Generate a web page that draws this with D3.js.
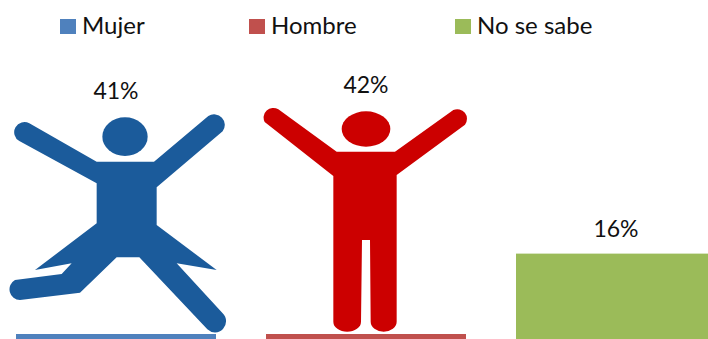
<!DOCTYPE html>
<html>
<head>
<meta charset="utf-8">
<script src="https://cdn.jsdelivr.net/npm/d3@7"></script>
<style>
  html, body { margin: 0; padding: 0; background: #fff; }
  text { font-family: Lato, "Open Sans", sans-serif; fill: #111; }
</style>
</head>
<body>
<div id="chart"></div>
<script>
var categories = ["Mujer", "Hombre", "No se sabe"];
var values = [41, 42, 16];
var barColors = ["#4f81bd", "#c0504d", "#9bbb59"];

function init() {

    var width = 708;
    var height = 339;

    var svg = d3.select("#chart")
        .append("svg")
        .attr("width", width)
        .attr("height", height)
        .style("display", "block");

    // Scales: baseline sits just under the cropped bottom edge
    var x = d3.scaleBand()
        .domain(categories)
        .range([-9, 741])
        .paddingInner(0.2)
        .paddingOuter(0.1);

    var y = d3.scaleLinear()
        .domain([0, 42])
        .range([342, 110]);

    // Bars
    svg.selectAll(".bar")
        .data(categories)
        .enter()
        .append("rect")
        .attr("class", "bar")
        .attr("x", function (d) { return x(d); })
        .attr("y", function (d, i) { return y(values[i]); })
        .attr("width", x.bandwidth())
        .attr("height", function (d, i) { return y(0) - y(values[i]); })
        .attr("fill", function (d, i) { return barColors[i]; });

    // Picture fills: white card over the bar, figure on top
    var pictures = [
        {
            color: "#1b5b9b",
            head: [375, 110, 68, 58],
            body: "M88,70 L290,185 L462,185 L625,48 A32,32 0 0 1 668,94 L470,262 L470,375 L650,510 L530,490 L668,640 A33,33 0 0 1 622,688 L418,472 L350,472 L240,578 L60,600 A32,32 0 0 1 45,540 L185,522 L215,490 L105,510 L290,370 L290,250 L58,123 A30,30 0 0 1 88,70 Z"
        },
        {
            color: "#cc0000",
            head: [348, 87, 73, 53],
            body: "M85,28 L260,155 L435,155 L610,30 A29,29 0 0 1 645,74 L440,225 L440,665 A39,30 0 0 1 362,665 L360,420 L336,420 L333,665 A41,30 0 0 1 250,665 L250,228 L44,66 A29,29 0 0 1 85,28 Z"
        }
    ];

    pictures.forEach(function (p, i) {
        var bx = x(categories[i]);
        svg.append("rect")
            .attr("x", bx - 1)
            .attr("y", y(values[i]) - 1)
            .attr("width", x.bandwidth() + 2)
            .attr("height", 334 - y(values[i]) + 1)
            .attr("fill", "#fff");

        // figure outlines were traced at 3x from the picture
        var g = svg.append("g")
            .attr("transform", "translate(" + (i * 250) + ",100) scale(" + (1 / 3) + ")")
            .attr("fill", p.color);
        g.append("ellipse")
            .attr("cx", p.head[0])
            .attr("cy", p.head[1])
            .attr("rx", p.head[2])
            .attr("ry", p.head[3]);
        g.append("path").attr("d", p.body);
    });

    // Value labels
    svg.selectAll(".label")
        .data(categories)
        .enter()
        .append("text")
        .attr("class", "label")
        .attr("x", function (d) { return x(d) + x.bandwidth() / 2; })
        .attr("y", function (d, i) { return y(values[i]) - 17; })
        .attr("text-anchor", "middle")
        .attr("font-size", 23)
        .text(function (d, i) { return values[i] + "%"; });

    // Legend
    var legendX = [60, 249, 455];
    var legend = svg.selectAll(".legend")
        .data(categories)
        .enter()
        .append("g")
        .attr("class", "legend")
        .attr("transform", function (d, i) { return "translate(" + legendX[i] + ",19)"; });

    legend.append("rect")
        .attr("width", 16)
        .attr("height", 15)
        .attr("fill", function (d, i) { return barColors[i]; });

    legend.append("text")
        .attr("x", 22)
        .attr("y", 15)
        .attr("font-size", 24)
        .text(function (d) { return d; });
}

window.onload = init;
</script>
</body>
</html>
